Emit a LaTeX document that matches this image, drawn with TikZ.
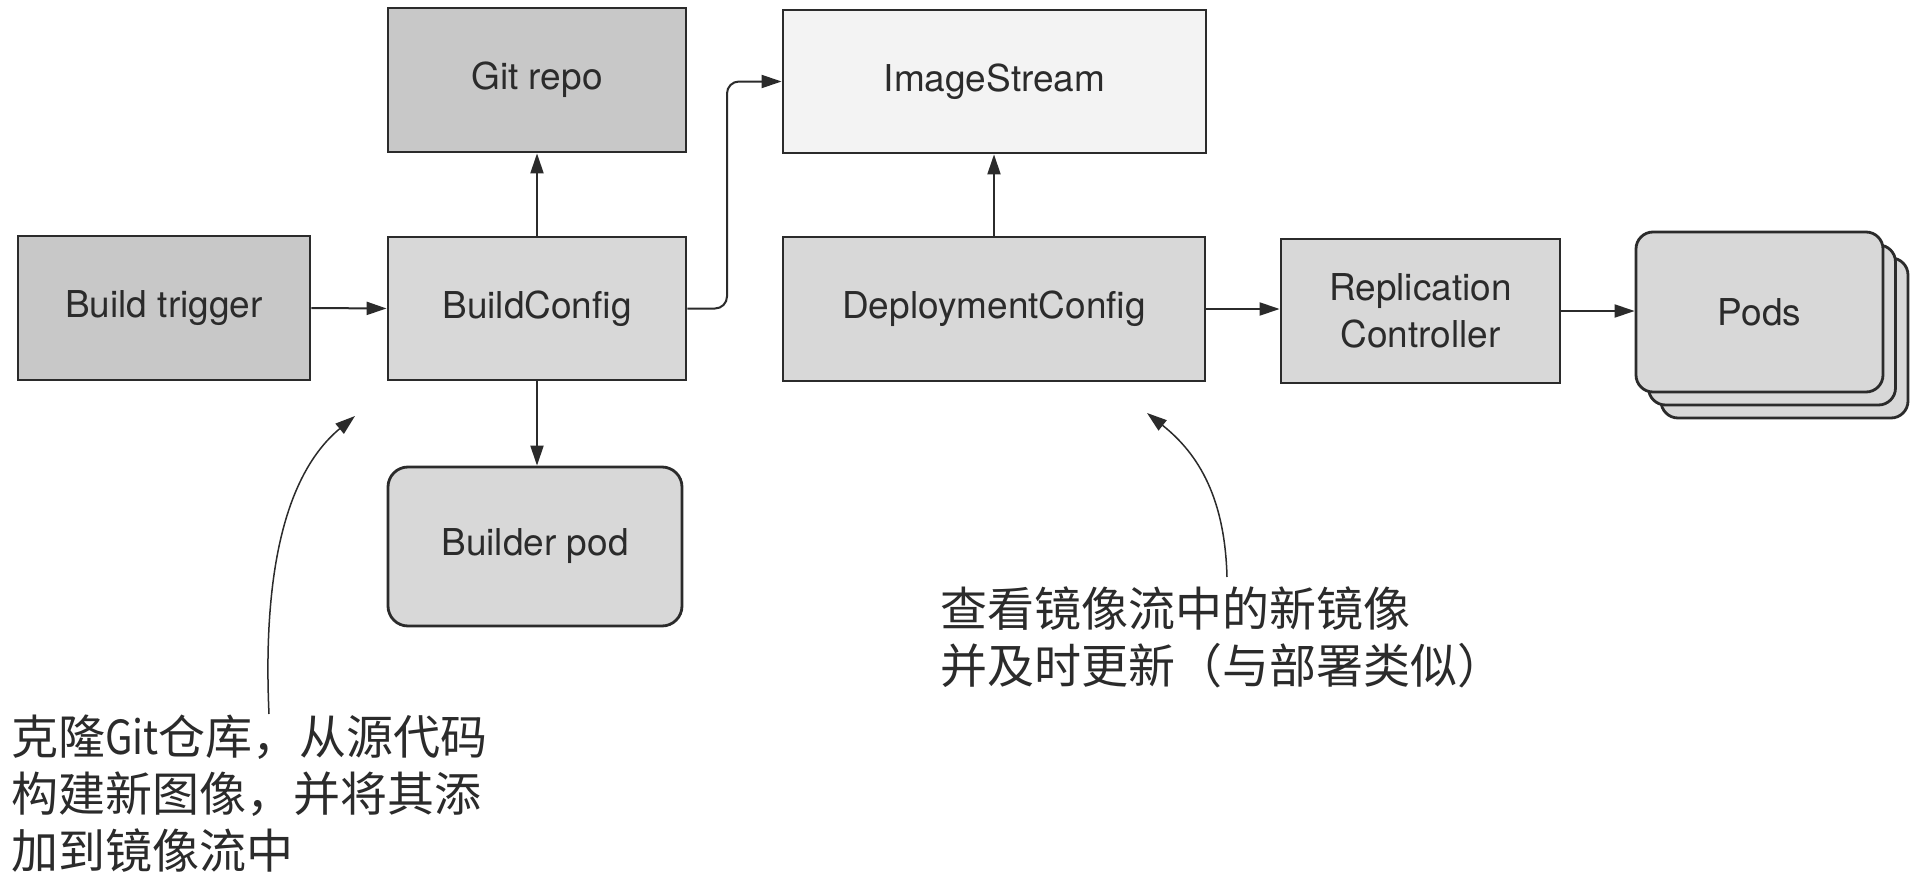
\documentclass[tikz,border=0pt]{standalone}
\usepackage{fontspec}
\setmainfont{TeX Gyre Heros}
\newfontfamily\cjk{Noto Sans CJK SC}
\usetikzlibrary{arrows.meta}
\definecolor{ink}{HTML}{2B2B2B}
\definecolor{gdark}{HTML}{C8C8C8}
\definecolor{gmid}{HTML}{D8D8D8}
\definecolor{glight}{HTML}{F3F3F3}
\begin{document}
\begin{tikzpicture}[x=0.5pt,y=-0.5pt,
  box/.style={draw=ink, line width=1.4pt, inner sep=0pt, text=ink,
    font=\fontsize{18.5pt}{23.5pt}\selectfont, align=center},
  podbox/.style={box, rounded corners=8.5pt, fill=gmid, minimum width=123.5pt, minimum height=80pt},
  arr/.style={draw=ink, line width=1pt, -{Triangle[length=10pt,width=6.5pt]}},
  callout/.style={draw=ink, line width=0.75pt, -{Triangle[length=10pt,width=6.5pt]}},
  note/.style={inner sep=0pt, anchor=north west, align=left, text=ink,
    font=\cjk\fontsize{23.5pt}{28.5pt}\selectfont}
]
\fill[white] (0,0) rectangle (1918,878);
\useasboundingbox (0,0) rectangle (1918,878);

% boxes
\node[box, fill=gdark, minimum width=146pt, minimum height=72pt] (trig) at (164,308) {Build trigger};
\node[box, fill=gmid, minimum width=149pt, minimum height=71.5pt] (bc) at (537,308.5) {BuildConfig};
\node[box, fill=gdark, minimum width=149pt, minimum height=72pt] (git) at (537,80) {Git repo};
\node[box, fill=glight, minimum width=211.5pt, minimum height=71.5pt] (is) at (994.5,81.5) {ImageStream};
\node[box, fill=gmid, minimum width=211pt, minimum height=72pt] (dc) at (994,309) {DeploymentConfig};
\node[box, fill=gmid, minimum width=139.5pt, minimum height=72pt] (rc) at (1420.5,311) {Replication\\Controller};
\node[podbox] (pods3) at (1784.5,338) {};
\node[podbox] (pods2) at (1772,325) {};
\node[podbox] (pods) at (1759.5,312) {Pods};
\node[box, fill=gmid, rounded corners=10pt, minimum width=147pt, minimum height=79.5pt] (bp) at (535,546.5) {Builder pod};

% connectors
\draw[arr] (trig.east) -- (bc.west);
\draw[arr] (bc.north) -- (git.south);
\draw[arr] (bc.south) -- (bc.south |- bp.north);
\coordinate (elb) at (727,0);
\draw[arr, rounded corners=6pt] (bc.east) -- (bc.east -| elb) |- (is.west);
\draw[arr] (dc.north) -- (dc.north |- is.south);
\draw[arr] (dc.east) -- (dc.east -| rc.west);
\draw[arr] (rc.east) -- (rc.east -| pods.west);

% callouts
\coordinate (lfoot) at (269,714);
\coordinate (ltip) at (355,416);
\draw[callout] (lfoot) .. controls (262,560) and (290,470) .. (ltip);
\coordinate (rfoot) at (1227,577);
\coordinate (rtip) at (1147,413);
\draw[callout] (rfoot) .. controls (1225,500) and (1200,455) .. (rtip);

\node[note] (lnote) at (11,715) {克隆\scalebox{0.85}[1]{Git}仓库，从源代码\\构建新图像，并将其添\\加到镜像流中};
\node[note] (rnote) at (940,586) {查看镜像流中的新镜像\\并及时更新（与部署类似）};
\end{tikzpicture}
\end{document}
